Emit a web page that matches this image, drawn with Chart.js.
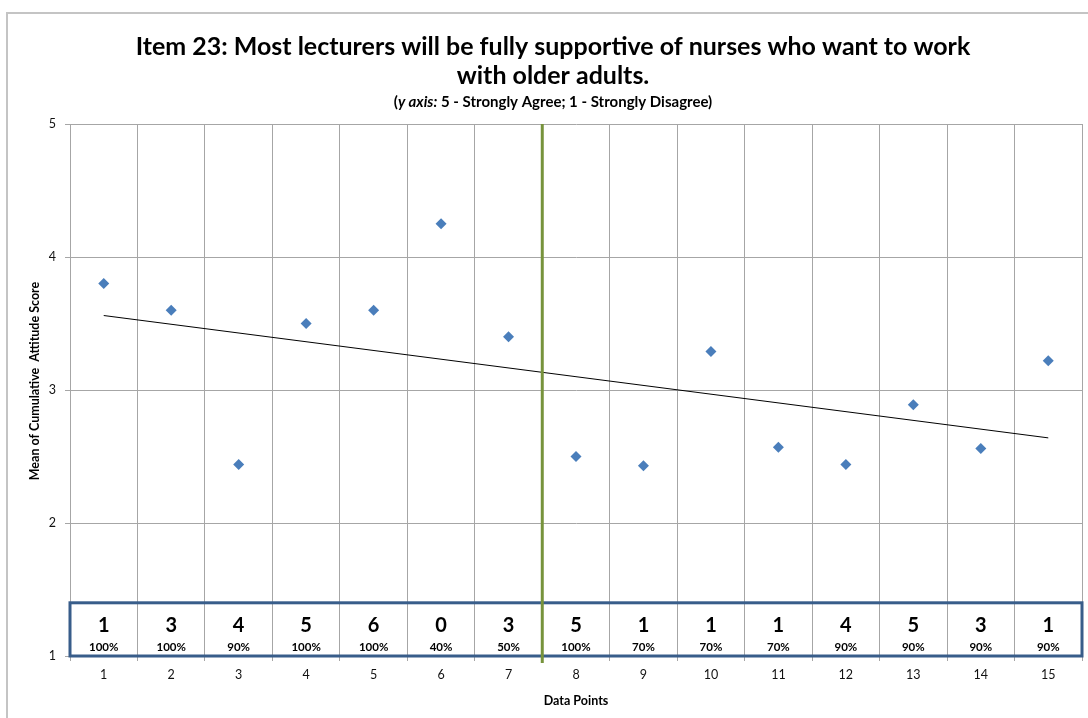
<!DOCTYPE html>
<html>
<head>
<meta charset="utf-8">
<script src="https://cdn.jsdelivr.net/npm/chart.js@4"></script>
<style>
  html, body { margin: 0; padding: 0; background: #fff; }
  #wrap { width: 1088px; height: 718px; position: relative; }
</style>
</head>
<body>
<div id="wrap"><canvas id="c" width="1088" height="718"></canvas></div>
<script>
'use strict';

/* ── data ── */
const categories = ['1','2','3','4','5','6','7','8','9','10','11','12','13','14','15'];
const meanScores = [3.80, 3.60, 2.44, 3.50, 3.60, 4.25, 3.40, 2.50, 2.43, 3.29, 2.57, 2.44, 2.89, 2.56, 3.22];
const trendStart = 3.56, trendEnd = 2.64;
const respondents = ['1','3','4','5','6','0','3','5','1','1','1','4','5','3','1'];
const agreePct = ['100%','100%','90%','100%','100%','40%','50%','100%','70%','70%','70%','90%','90%','90%','90%'];
const yTicks = [1, 2, 3, 4, 5];

const TITLE_1 = 'Item 23: Most lecturers will be fully supportive of nurses who want to work';
const TITLE_2 = 'with older adults.';
const Y_TITLE = 'Mean of Cumulative  Attitude Score';
const X_TITLE = 'Data Points';

/* ── look ── */
const FONT = 'Lato, "Open Sans", sans-serif';
const GRID = '#a6a6a6';
const MARKER = '#4a7ebb';
const BOX = '#385d8a';
const DIVIDER = '#77933c';
const tableTop = 1.4;       // y value where the count box starts
const dividerAfter = 7;     // green line sits after this category

const trendData = categories.map((c, i) => i === 0 ? trendStart : (i === categories.length - 1 ? trendEnd : null));

/* ── helpers ── */
function fitFont(ctx, text, weight, size, target) {
  ctx.font = `${weight} ${size}px ${FONT}`;
  const w = ctx.measureText(text).width;
  return size * target / w;
}

const chrome = {
  id: 'chrome',
  beforeDraw(chart) {
    const ctx = chart.ctx;
    ctx.save();
    ctx.fillStyle = '#fff';
    ctx.fillRect(0, 0, chart.width, chart.height);
    ctx.strokeStyle = '#c4c4c4';
    ctx.lineWidth = 2;
    ctx.strokeRect(7, 13, 1200, 900);
    ctx.restore();
  },
  afterDatasetsDraw(chart) {
    const { ctx, chartArea: a, scales: { x, y } } = chart;
    ctx.save();
    // count / percent box
    const top = y.getPixelForValue(tableTop), bot = y.getPixelForValue(1);
    ctx.strokeStyle = BOX;
    ctx.lineWidth = 3;
    ctx.strokeRect(a.left, top, a.right - a.left, bot - top);
    ctx.fillStyle = '#000';
    ctx.textAlign = 'center';
    ctx.textBaseline = 'middle';
    categories.forEach((c, i) => {
      const cx = x.getPixelForValue(i);
      ctx.font = `bold 20px ${FONT}`;
      ctx.fillText(respondents[i], cx, top + 23);
      ctx.font = `bold 11.5px ${FONT}`;
      ctx.fillText(agreePct[i], cx, bot - 9);
    });
    // green divider
    const gx = (x.getPixelForValue(dividerAfter - 1) + x.getPixelForValue(dividerAfter)) / 2;
    ctx.strokeStyle = DIVIDER;
    ctx.lineWidth = 3;
    ctx.beginPath();
    ctx.moveTo(gx, a.top);
    ctx.lineTo(gx, a.bottom + 7);
    ctx.stroke();
    ctx.restore();
  },
  afterDraw(chart) {
    const ctx = chart.ctx, a = chart.chartArea;
    const cx = 553;
    ctx.save();
    ctx.fillStyle = '#000';
    ctx.textAlign = 'center';
    ctx.textBaseline = 'middle';
    const s1 = fitFont(ctx, TITLE_1, 'bold', 24, 835);
    ctx.font = `bold ${s1}px ${FONT}`;
    ctx.fillText(TITLE_1, cx, 47);
    ctx.fillText(TITLE_2, cx, 76);

    // subtitle with italic part
    const parts = [
      ['bold', '('], ['italic bold', 'y axis:'], ['bold', ' 5 - Strongly Agree; 1 - Strongly Disagree)']
    ];
    let sz = 12.5, total = 0;
    parts.forEach(p => { ctx.font = `${p[0]} ${sz}px ${FONT}`; total += ctx.measureText(p[1]).width; });
    sz = Math.min(15, sz * 345 / total);
    total = 0;
    parts.forEach(p => { ctx.font = `${p[0]} ${sz}px ${FONT}`; total += ctx.measureText(p[1]).width; });
    let px = 553 - total / 2;
    ctx.textAlign = 'left';
    parts.forEach(p => {
      ctx.font = `${p[0]} ${sz}px ${FONT}`;
      ctx.fillText(p[1], px, 102);
      px += ctx.measureText(p[1]).width;
    });

    // axis titles
    ctx.textAlign = 'center';
    ctx.font = `bold 12.5px ${FONT}`;
    ctx.fillText(X_TITLE, (a.left + a.right) / 2, 701);
    ctx.translate(35, 381);
    ctx.rotate(-Math.PI / 2);
    ctx.fillText(Y_TITLE, 0, 0);
    ctx.restore();
  }
};

new Chart(document.getElementById('c'), {
  type: 'line',
  data: {
    labels: categories,
    datasets: [
      {
        label: 'Mean score',
        data: meanScores,
        showLine: false,
        pointStyle: 'rectRot',
        pointRadius: 5.5,
        pointBackgroundColor: MARKER,
        pointBorderColor: MARKER,
        pointBorderWidth: 0
      },
      {
        label: 'Trend',
        data: trendData,
        spanGaps: true,
        borderColor: '#000',
        borderWidth: 1,
        pointRadius: 0,
        tension: 0
      }
    ]
  },
  options: {
    responsive: false,
    animation: false,
    layout: { padding: { left: 0, right: 6, top: 124, bottom: 0 } },
    plugins: { legend: { display: false }, tooltip: { enabled: false }, title: { display: false } },
    scales: {
      x: {
        offset: true,
        grid: { offset: true, color: GRID, lineWidth: 1, tickLength: 5 },
        border: { color: GRID },
        ticks: { color: '#111', font: { family: FONT, size: 12.5 }, padding: 6, maxRotation: 0 },
        afterFit(s) { s.height = 62; }
      },
      y: {
        min: 1, max: 5,
        afterBuildTicks(s) { s.ticks = yTicks.map(v => ({ value: v })); },
        grid: { color: GRID, lineWidth: 1, tickLength: 5 },
        border: { color: GRID },
        ticks: { color: '#111', font: { family: FONT, size: 12.5 }, padding: 9 },
        afterFit(s) { s.width = 70; }
      }
    }
  },
  plugins: [chrome]
});
</script>
</body>
</html>
